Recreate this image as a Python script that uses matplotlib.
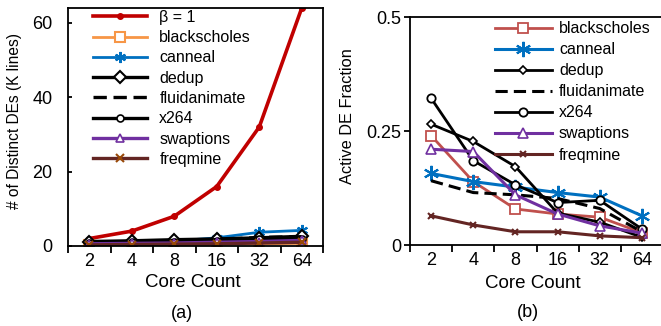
"""Distinct DE count and active DE fraction vs core count, two panels."""

import matplotlib

matplotlib.use("Agg")

import matplotlib.pyplot as plt
import numpy as np

plt.rcParams["font.family"] = ["Liberation Sans", "DejaVu Sans"]

cores = ["2", "4", "8", "16", "32", "64"]

# panel (a): distinct DEs, K lines
beta_one = [2, 4, 8, 16, 32, 64]
a_blackscholes = [0.2, 0.3, 0.4, 0.5, 0.6, 0.7]
a_canneal = [0.6, 0.9, 1.3, 2.2, 3.7, 4.2]
a_dedup = [1.2, 1.4, 1.7, 1.9, 2.2, 2.6]
a_fluidanimate = [1.0, 1.2, 1.5, 1.7, 2.3, 2.5]
a_x264 = [0.8, 1.0, 1.2, 1.4, 1.8, 2.0]
a_swaptions = [0.6, 0.7, 0.8, 1.0, 1.2, 1.5]
a_freqmine = [0.3, 0.4, 0.5, 0.6, 0.8, 1.0]

# panel (b): active DE fraction
b_blackscholes = [0.240, 0.139, 0.079, 0.068, 0.061, 0.027]
b_canneal = [0.157, 0.139, 0.127, 0.115, 0.105, 0.064]
b_dedup = [0.265, 0.227, 0.172, 0.070, 0.050, 0.017]
b_fluidanimate = [0.141, 0.115, 0.110, 0.102, 0.080, 0.029]
b_x264 = [0.322, 0.185, 0.132, 0.093, 0.098, 0.035]
b_swaptions = [0.210, 0.205, 0.110, 0.068, 0.042, 0.026]
b_freqmine = [0.064, 0.044, 0.029, 0.029, 0.020, 0.016]

RED = "#C00000"
ORANGE = "#F79646"
SALMON = "#C0504D"
BLUE = "#0070C0"
PURPLE = "#7030A0"
BROWN = "#632523"
ASTERISK = (6, 2, 0)

TICK_FS = 13
LEG_FS = 11.5

fig = plt.figure(figsize=(6.61, 3.26), dpi=100)
ax_a = fig.add_axes([68 / 661, 80 / 326, 255 / 661, 238 / 326])
ax_b = fig.add_axes([410 / 661, 81 / 326, 253 / 661, 228 / 326])

x = np.arange(len(cores))

# ---- panel (a)
ax_a.plot(x, beta_one, color=RED, lw=2.6, marker="o", ms=4, label="β = 1")
ax_a.plot(x, a_blackscholes, color=ORANGE, lw=2, marker="s", ms=7,
          mfc="white", mec=ORANGE, mew=1.5, label="blackscholes")
ax_a.plot(x, a_canneal, color=BLUE, lw=2, marker=ASTERISK, ms=8,
          mew=1.5, label="canneal")
ax_a.plot(x, a_dedup, color="black", lw=2.4, marker="D", ms=6.5,
          mfc="white", mec="black", mew=1.5, label="dedup")
ax_a.plot(x, a_fluidanimate, color="black", lw=2.4, ls=(0, (4, 2)),
          label="fluidanimate")
ax_a.plot(x, a_x264, color="black", lw=2.4, marker="o", ms=5,
          mfc="white", mec="black", mew=1.2, label="x264")
ax_a.plot(x, a_swaptions, color=PURPLE, lw=2.4, marker="^", ms=6,
          mfc="white", mec=PURPLE, mew=1.2, label="swaptions")
ax_a.plot(x, a_freqmine, color=BROWN, lw=2.4, marker="x", ms=6,
          mec="#984807", mew=1.5, label="freqmine")

ax_a.set_ylim(0, 64)
ax_a.set_yticks([0, 20, 40, 60])
ax_a.tick_params(axis="y", direction="in", length=3, width=1.3, pad=11,
                 labelsize=TICK_FS)
ax_a.set_ylabel("# of Distinct DEs (K lines)", fontsize=11.2, va="center")
ax_a.yaxis.set_label_coords(-0.208, 0.525)
ax_a.legend(loc="upper left", bbox_to_anchor=(0.098, 0.992), frameon=False,
            fontsize=LEG_FS, handlelength=3.4, handletextpad=0.75,
            labelspacing=0.33, borderpad=0, borderaxespad=0)

# ---- panel (b)
ax_b.plot(x, b_blackscholes, color=SALMON, lw=2, marker="s", ms=7,
          mfc="white", mec=SALMON, mew=1.3, label="blackscholes")
ax_b.plot(x, b_canneal, color=BLUE, lw=2.2, marker=ASTERISK, ms=11,
          mew=1.5, label="canneal")
ax_b.plot(x, b_dedup, color="black", lw=2, marker="D", ms=4,
          mfc="white", mec="black", mew=1.2, label="dedup")
ax_b.plot(x, b_fluidanimate, color="black", lw=2.2, ls=(0, (4, 2)),
          label="fluidanimate")
ax_b.plot(x, b_x264, color="black", lw=2, marker="o", ms=6,
          mfc="white", mec="black", mew=1.3, label="x264")
ax_b.plot(x, b_swaptions, color=PURPLE, lw=2.2, marker="^", ms=6.5,
          mfc="white", mec=PURPLE, mew=1.2, label="swaptions")
ax_b.plot(x, b_freqmine, color=BROWN, lw=2.2, marker="x", ms=5,
          mew=1.5, label="freqmine")

ax_b.set_ylim(0, 0.5)
ax_b.set_yticks([0, 0.25, 0.5], labels=["0", "0.25", "0.5"])
ax_b.tick_params(axis="y", direction="out", length=4, width=1.3, pad=2,
                 labelsize=TICK_FS)
ax_b.set_ylabel("Active DE Fraction", fontsize=11.8, va="center")
ax_b.yaxis.set_label_coords(-0.249, 0.566)
ax_b.legend(loc="upper left", bbox_to_anchor=(0.336, 0.982), frameon=False,
            fontsize=LEG_FS, handlelength=3.55, handletextpad=0.45,
            labelspacing=0.38, borderpad=0, borderaxespad=0)

label_pos = {ax_a: (0.49, -0.155), ax_b: (0.486, -0.167)}
tag_pos = {ax_a: (0.447, -0.282), ax_b: (0.466, -0.298)}

for ax, tag in ((ax_a, "(a)"), (ax_b, "(b)")):
    ax.set_xlim(-0.5, len(cores) - 0.5)
    ax.set_xticks(x, labels=cores)
    ax.set_xticks(np.arange(-0.5, len(cores)), minor=True)
    ax.tick_params(axis="x", which="major", length=0, pad=5,
                   labelsize=TICK_FS)
    ax.tick_params(axis="x", which="minor", length=5, width=1.3,
                   direction="out")
    ax.set_xlabel("Core Count", fontsize=13.5, va="center")
    ax.xaxis.set_label_coords(*label_pos[ax])
    for spine in ax.spines.values():
        spine.set_linewidth(1.3)
    ax.text(*tag_pos[ax], tag, transform=ax.transAxes, ha="center",
            va="center", fontsize=13)

fig.savefig("out.png", dpi=100)
